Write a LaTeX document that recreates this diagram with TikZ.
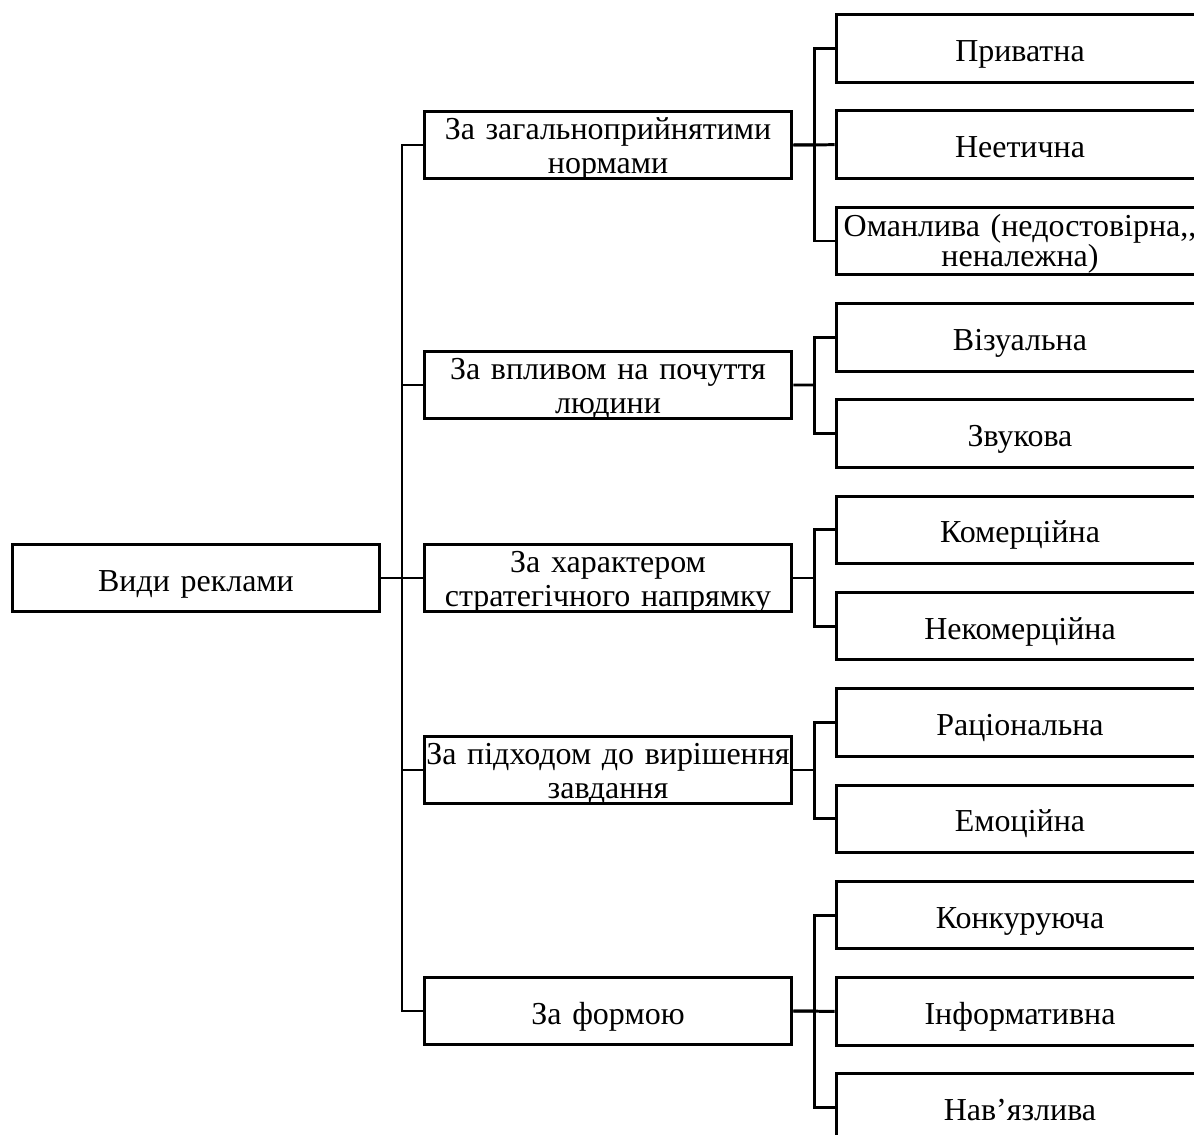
\documentclass[tikz,border=0pt]{standalone}
\usepackage{fontspec}
\setmainfont{Liberation Serif}
\usetikzlibrary{calc}

\begin{document}
\begin{tikzpicture}[x=0.02cm, y=-0.02cm, line width=1.7pt,
  box/.style={draw, line width=1.7pt, minimum width=7.36cm, minimum height=1.35cm,
    text width=7.3cm, align=center, inner sep=0pt, text height=18.8pt, text depth=4pt,
    font=\fontsize{18.2}{19.4}\selectfont},
  twoline/.style={text height=15.8pt, text depth=22.6pt},
  item2/.style={text height=16.7pt, text depth=21.7pt, font=\fontsize{18.2}{17}\selectfont}]
\useasboundingbox (0,0) rectangle (1194,1135);
\node[box] (vydy) at (196,578) {Види реклами};
\node[box, twoline] (norm) at (608,145) {За загальноприйнятими\\ нормами};
\node[box, twoline] (vplyv) at (608,385) {За впливом на почуття\\ людини};
\node[box, twoline] (strat) at (608,578) {За характером\\ стратегічного напрямку};
\node[box, twoline] (pidkhid) at (608,770) {За підходом до вирішення\\ завдання};
\node[box] (forma) at (608,1011) {За формою};
\foreach \t [count=\i from 0] in {Приватна, Неетична, {Оманлива (недостовірна,{},\\ неналежна)},
  Візуальна, Звукова, Комерційна, Некомерційна, Раціональна, Емоційна,
  Конкуруюча, Інформативна, Нав’язлива}
  \node[box, item\i/.try] (v\i) at (1020,48.4+96.3*\i) {\t};
% main trunk
\coordinate (t0) at ($(vydy.east)!.5!(strat.west)$);
\draw (vydy.east) -- (strat.west);
\draw (norm.west) -| (t0) |- (forma.west);
\foreach \m in {vplyv, pidkhid}
  \draw (t0 |- \m.west) -- (\m.west);
% branches to the right
\foreach \m/\a/\b in {norm/0/2, vplyv/3/4, strat/5/6, pidkhid/7/8, forma/9/11} {
  \coordinate (j) at ($(\m.east)!.5!(\m.east -| v\a.west)$);
  \draw (\m.east) -- (j);
  \draw (v\a.west) -| (j) |- (v\b.west);
}
\foreach \m/\c in {norm/1, forma/10}
  \draw (\m.east) -- (v\c.west);
\end{tikzpicture}
\end{document}
